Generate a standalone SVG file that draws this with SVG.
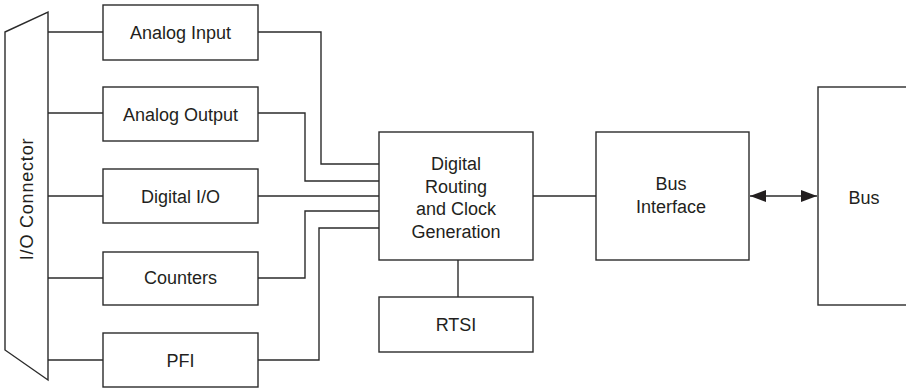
<svg xmlns="http://www.w3.org/2000/svg" width="906" height="389" viewBox="0 0 906 389">
<defs>
<style>
.box{fill:#fff;stroke:#2b2b2b;stroke-width:1.4}
.ln{fill:none;stroke:#2b2b2b;stroke-width:1.4}
.t{font-family:"Liberation Sans",Arial,sans-serif;font-size:18px;fill:#231f20;text-anchor:middle}
</style>
<marker id="ah" viewBox="0 0 16 12" refX="16" refY="6" markerWidth="16" markerHeight="12" markerUnits="userSpaceOnUse" orient="auto-start-reverse">
<path d="M0,0 L16,6 L0,12 Z" fill="#231f20"/>
</marker>
</defs>
<rect width="906" height="389" fill="#fff"/>
<g id="connectors">
<path class="ln" d="M48,32 H103"/>
<path class="ln" d="M48,113 H103"/>
<path class="ln" d="M48,196 H103"/>
<path class="ln" d="M48,278 H103"/>
<path class="ln" d="M48,360 H103"/>
<path class="ln" d="M258,32 H321 V164 H379"/>
<path class="ln" d="M258,113 H305 V181 H379"/>
<path class="ln" d="M258,196 H379"/>
<path class="ln" d="M258,278 H305 V211 H379"/>
<path class="ln" d="M258,360 H319 V228 H379"/>
<path class="ln" d="M533,196 H596"/>
<path class="ln" d="M458,260 V297"/>
<path class="ln" d="M750,196 H817" marker-start="url(#ah)" marker-end="url(#ah)"/>
</g>
<g id="io-connector">
<path class="box" d="M5,32 L48,12 L48,380 L5,350 Z"/>
<text class="t" transform="translate(33,199) rotate(-90)" letter-spacing="0.8">I/O Connector</text>
</g>
<g id="analog-input">
<rect class="box" x="103" y="5" width="155" height="55"/>
<text class="t" x="180.5" y="38.5">Analog Input</text>
</g>
<g id="analog-output">
<rect class="box" x="103" y="87" width="155" height="54"/>
<text class="t" x="180.5" y="120.5">Analog Output</text>
</g>
<g id="digital-io">
<rect class="box" x="103" y="169" width="155" height="54"/>
<text class="t" x="180.5" y="202.5">Digital I/O</text>
</g>
<g id="counters">
<rect class="box" x="103" y="252" width="155" height="53"/>
<text class="t" x="180.5" y="284">Counters</text>
</g>
<g id="pfi">
<rect class="box" x="103" y="333" width="155" height="54"/>
<text class="t" x="180.5" y="367">PFI</text>
</g>
<g id="routing">
<rect class="box" x="379" y="132" width="154" height="128"/>
<text class="t" x="456" y="170">Digital</text>
<text class="t" x="456" y="192.5">Routing</text>
<text class="t" x="456" y="215">and Clock</text>
<text class="t" x="456" y="237.5">Generation</text>
</g>
<g id="rtsi">
<rect class="box" x="379" y="297" width="154" height="55"/>
<text class="t" x="456" y="331">RTSI</text>
</g>
<g id="bus-interface">
<rect class="box" x="596" y="132" width="153" height="128"/>
<text class="t" x="671" y="190">Bus</text>
<text class="t" x="671" y="212.5">Interface</text>
</g>
<g id="bus">
<rect class="box" x="818" y="87" width="100" height="218"/>
<text class="t" x="864" y="203.5">Bus</text>
</g>
</svg>
